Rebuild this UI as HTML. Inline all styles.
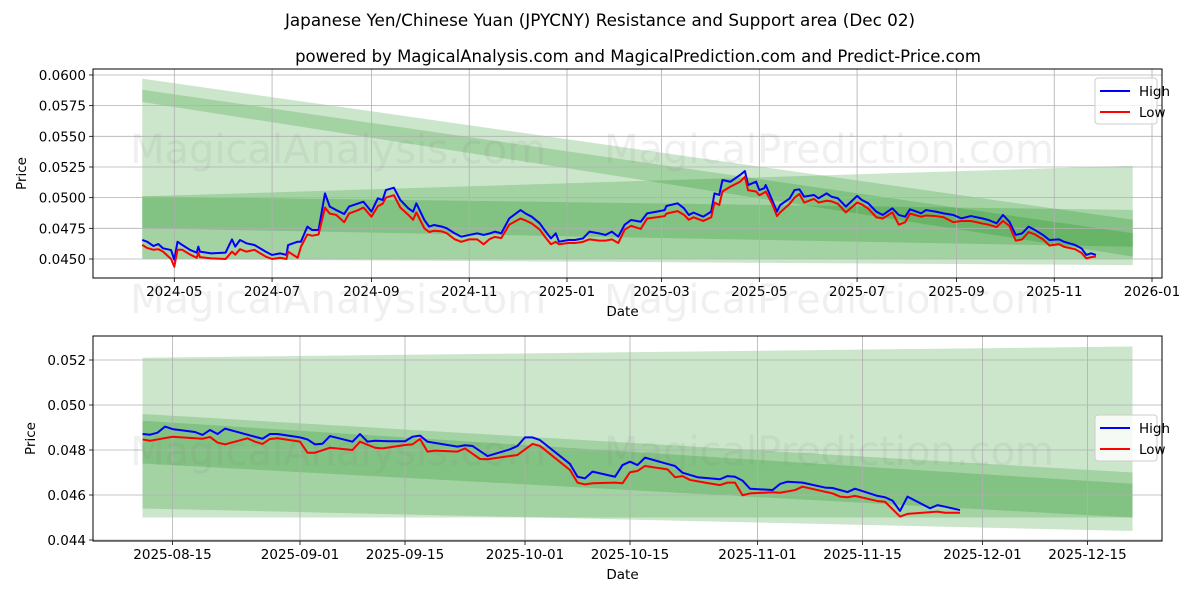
<!DOCTYPE html>
<html><head><meta charset="utf-8">
<style>
html,body{margin:0;padding:0;background:#fff;}
svg{display:block;font-family:"DejaVu Sans","Liberation Sans",sans-serif;}
</style></head>
<body>
<svg id="chart" width="1200" height="600" viewBox="0 0 1200 600">
<text x="600" y="26" text-anchor="middle" font-size="16.8">Japanese Yen/Chinese Yuan (JPYCNY) Resistance and Support area (Dec 02)</text>
<text x="638" y="62" text-anchor="middle" font-size="16.5">powered by MagicalAnalysis.com and MagicalPrediction.com and Predict-Price.com</text>
</svg>
<script>
// ---- top chart data (days since 2024-05-01) ----
const topDays=[-20,-17,-13,-10,-7,-2,0,2,5,10,14,15,16,23,32,36,38,41,45,50,57,61,66,70,71,77,79,83,86,90,94,97,101,106,109,115,118,123,127,130,132,137,141,146,149,151,156,159,162,167,170,175,179,184,189,193,197,200,204,209,216,219,223,228,231,235,238,240,246,250,255,259,265,269,273,277,281,285,291,295,301,306,307,314,318,321,324,330,335,337,340,342,347,353,356,358,363,365,368,369,373,376,378,384,387,390,393,399,402,407,410,414,419,426,429,433,438,442,448,452,456,459,466,469,475,480,486,491,497,504,508,513,517,521,525,529,533,537,542,546,552,555,562,566,569,572,575];
const topHigh=[.04655,.04641,.04606,.04622,.04587,.04573,.04492,.04641,.04614,.04573,.04552,.04601,.04560,.04546,.04552,.04660,.04601,.04655,.04628,.04614,.04560,.04533,.04546,.04533,.04614,.04641,.04641,.04764,.04736,.04736,.05035,.04927,.04899,.04867,.04927,.04954,.04967,.04886,.04995,.04981,.05062,.05081,.04981,.04913,.04886,.04954,.04818,.04764,.04777,.04764,.04750,.04709,.04682,.04696,.04709,.04696,.04709,.04723,.04709,.04831,.04899,.04872,.04845,.04791,.04736,.04668,.04709,.04641,.04655,.04655,.04668,.04723,.04709,.04696,.04723,.04682,.04780,.04818,.04804,.04872,.04886,.04899,.04932,.04954,.04913,.04859,.04878,.04845,.04886,.05035,.05022,.05144,.05130,.05185,.05217,.05103,.05130,.05062,.05076,.05103,.04981,.04886,.04940,.04995,.05062,.05068,.05008,.05022,.04995,.05035,.05008,.04995,.04927,.05014,.04981,.04954,.04886,.04859,.04913,.04859,.04845,.04905,.04872,.04899,.04886,.04872,.04859,.04831,.04850,.04831,.04818,.04791,.04859,.04804,.04696,.04709,.04764,.04736,.04696,.04655,.04660,.04641,.04614,.04587,.04533,.04546,.04533];
const topLow=[.04615,.04590,.04575,.04580,.04560,.04500,.04437,.04575,.04575,.04535,.04510,.04550,.04515,.04505,.04500,.04560,.04535,.04580,.04560,.04575,.04520,.04500,.04510,.04500,.04560,.04510,.04600,.04700,.04690,.04700,.04920,.04870,.04860,.04800,.04870,.04900,.04920,.04845,.04930,.04950,.05000,.05020,.04920,.04860,.04820,.04880,.04750,.04720,.04730,.04725,.04710,.04660,.04640,.04660,.04660,.04620,.04665,.04680,.04670,.04780,.04830,.04815,.04790,.04740,.04685,.04620,.04640,.04620,.04630,.04630,.04640,.04660,.04650,.04650,.04660,.04630,.04740,.04770,.04745,.04830,.04840,.04850,.04870,.04890,.04860,.04820,.04840,.04810,.04840,.04960,.04940,.05050,.05090,.05130,.05170,.05060,.05050,.05020,.05040,.05050,.04950,.04850,.04880,.04950,.05000,.05030,.04960,.04990,.04960,.04975,.04970,.04950,.04880,.04960,.04945,.04910,.04840,.04830,.04880,.04780,.04800,.04870,.04845,.04855,.04850,.04840,.04800,.04810,.04810,.04790,.04780,.04760,.04810,.04770,.04650,.04660,.04720,.04700,.04660,.04610,.04620,.04600,.04580,.04550,.04505,.04515,.04520];
const topXTickDays=[0,61,123,184,245,304,365,426,488,549,610];
const topXTickLabels=["2024-05","2024-07","2024-09","2024-11","2025-01","2025-03","2025-05","2025-07","2025-09","2025-11","2026-01"];
const topYTicks=[0.0450,0.0475,0.0500,0.0525,0.0550,0.0575,0.0600];
const topBandDays=[-20,598];
const topBandTopStart=[0.0597,0.0588,0.0501,0.0501];
const topBandTopEnd=[0.0482,0.0471,0.0526,0.0490];
const topBandBotStart=[0.0450,0.0578,0.0450,0.0475];
const topBandBotEnd=[0.0445,0.0452,0.0450,0.0460];

// ---- bottom chart data (days since 2025-08-15) ----
const botHighDays=[-4,-3,-2,-1,0,3,4,5,6,7,9,11,12,13,14,17,18,19,20,21,24,25,26,27,29,31,32,33,34,38,39,40,42,45,46,47,48,49,53,54,55,56,59,60,61,62,63,66,67,68,70,73,74,75,76,77,80,81,82,84,87,88,90,91,94,95,96,97,98,101,102,103,105];
const botHigh=[.04871,.04868,.04877,.04904,.04893,.04880,.04867,.04889,.04871,.04895,.04877,.04859,.04850,.04871,.04871,.04856,.04847,.04825,.04828,.04862,.04837,.04871,.04837,.04841,.04839,.04839,.04859,.04864,.04837,.04815,.04821,.04818,.04773,.04803,.04818,.04856,.04856,.04844,.04738,.04681,.04674,.04704,.04681,.04733,.04748,.04733,.04766,.04738,.04729,.04699,.04679,.04670,.04684,.04681,.04664,.04628,.04622,.04649,.04659,.04655,.04633,.04631,.04613,.04628,.04596,.04590,.04575,.04529,.04593,.04541,.04555,.04548,.04533];
const botLowDays=[-4,-3,-2,0,4,5,6,7,10,11,12,13,14,17,18,19,21,24,25,27,28,31,32,33,34,35,38,39,41,42,46,48,49,53,54,55,56,59,60,61,62,63,66,67,68,69,71,73,74,75,76,77,80,81,83,84,88,89,90,91,94,95,97,98,102,103,105];
const botLow=[.04847,.04841,.04847,.04859,.04850,.04858,.04833,.04825,.04852,.04837,.04827,.04849,.04852,.04837,.04788,.04788,.04810,.04800,.04837,.04810,.04807,.04822,.04825,.04849,.04793,.04797,.04793,.04807,.04760,.04759,.04778,.04827,.04818,.04711,.04655,.04647,.04652,.04655,.04652,.04701,.04707,.04729,.04714,.04679,.04684,.04667,.04655,.04644,.04655,.04655,.04599,.04607,.04612,.04610,.04622,.04637,.04607,.04593,.04590,.04596,.04573,.04570,.04504,.04516,.04526,.04521,.04521];
const botXTickDays=[0,17,31,47,61,78,92,108,122];
const botXTickLabels=["2025-08-15","2025-09-01","2025-09-15","2025-10-01","2025-10-15","2025-11-01","2025-11-15","2025-12-01","2025-12-15"];
const botYTicks=[0.044,0.046,0.048,0.050,0.052];
const botBandDays=[-4,128];
const botBandTopStart=[0.0521,0.0496,0.0493];
const botBandTopEnd=[0.0526,0.0470,0.0465];
const botBandBotStart=[0.0450,0.0454,0.0474];
const botBandBotEnd=[0.0450,0.0444,0.0450];

const svg=document.getElementById('chart');
const NS='http://www.w3.org/2000/svg';
function mk(tag,attrs,parent){const e=document.createElementNS(NS,tag);for(const k in attrs)e.setAttribute(k,attrs[k]);(parent||svg).appendChild(e);return e;}

function drawPanel(o){
  const g=mk('g',{});
  
  
  for(let i=0;i<o.bTS.length;i++){
    const x0=o.xs(o.bDays[0]),x1=o.xs(o.bDays[1]);
    const pts=[[x0,o.ys(o.bTS[i])],[x1,o.ys(o.bTE[i])],[x1,o.ys(o.bBE[i])],[x0,o.ys(o.bBS[i])]];
    const p=mk('polygon',{points:pts.map(q=>q.join(',')).join(' '),fill:'rgb(0,128,0)','fill-opacity':0.2},g);
    
    
  }
  o.xt.forEach((d,i)=>{const x=o.xs(d);
    const l=mk('line',{x1:x,x2:x,y1:o.top,y2:o.bot,stroke:'#b0b0b0','stroke-width':0.8},g);
    
    
    mk('line',{x1:x,x2:x,y1:o.bot,y2:o.bot+4,stroke:'#000','stroke-width':0.8},g);
    const t=mk('text',{x:x,y:o.bot+18,'text-anchor':'middle','font-size':13.5},g);t.textContent=o.xl[i];
    
    
  });
  o.yt.forEach(v=>{const y=o.ys(v);
    const l=mk('line',{x1:o.left,x2:o.right,y1:y,y2:y,stroke:'#b0b0b0','stroke-width':0.8},g);
    
    
    mk('line',{x1:o.left-4,x2:o.left,y1:y,y2:y,stroke:'#000','stroke-width':0.8},g);
    const t=mk('text',{x:o.left-7,y:y+5,'text-anchor':'end','font-size':13.5},g);t.textContent=v.toFixed(o.dec);
    
    
  });
  o.wm.forEach(w=>{const t=mk('text',{x:w[0],y:w[1],'font-size':40,fill:'#808080','fill-opacity':0.12},g);t.textContent=w[2];
    
    });
  const hp=mk('polyline',{points:o.hd.map((d,i)=>o.xs(d)+','+o.ys(o.hv[i])).join(' '),fill:'none',stroke:'#0000ff','stroke-width':2,'stroke-linejoin':'round'},g);
  
  
  const lp=mk('polyline',{points:o.ld.map((d,i)=>o.xs(d)+','+o.ys(o.lv[i])).join(' '),fill:'none',stroke:'#ff0000','stroke-width':2,'stroke-linejoin':'round'},g);
  
  
  const fr=mk('rect',{x:o.left,y:o.top,width:o.right-o.left,height:o.bot-o.top,fill:'none',stroke:'#000','stroke-width':1},g);
  
  
  const xl=mk('text',{x:(o.left+o.right)/2-5,y:o.bot+38,'text-anchor':'middle','font-size':13.5},g);xl.textContent='Date';
  
  
  const cy=(o.top+o.bot)/2;
  const yl=mk('text',{x:o.ylx,y:cy,'text-anchor':'middle','font-size':13.5,transform:`rotate(-90 ${o.ylx} ${cy})`},g);yl.textContent='Price';
  
  
  const lg=mk('g',{},g);
  
  
  mk('rect',{x:1095,y:o.legY,width:62,height:46,rx:3,fill:'#fff','fill-opacity':0.8,stroke:'#ccc','stroke-width':1},lg);
  [['High','#0000ff'],['Low','#ff0000']].forEach((e,i)=>{const yy=o.legY+13+i*21;
    mk('line',{x1:1100,x2:1130,y1:yy,y2:yy,stroke:e[1],'stroke-width':2},lg);
    const t=mk('text',{x:1139,y:yy+5,'font-size':13.5},lg);t.textContent=e[0];
    
    });
}

drawPanel({name:'top-panel',left:93,right:1162,top:69,bot:278,
  xs:d=>174.3+d*1.6028, ys:v=>259-(v-0.045)/0.0025*30.67,
  bDays:topBandDays,bTS:topBandTopStart,bTE:topBandTopEnd,bBS:topBandBotStart,bBE:topBandBotEnd,
  xt:topXTickDays,xl:topXTickLabels,yt:topYTicks,dec:4,
  hd:topDays,hv:topHigh,ld:topDays,lv:topLow,ylx:26,legY:78,
  wm:[[130,163,'MagicalAnalysis.com'],[604,163,'MagicalPrediction.com'],[130,313,'MagicalAnalysis.com'],[604,313,'MagicalPrediction.com']]});
drawPanel({name:'bottom-panel',left:93,right:1162,top:336,bot:541,
  xs:d=>172.5+d*7.5, ys:v=>360+(0.052-v)*22500,
  bDays:botBandDays,bTS:botBandTopStart,bTE:botBandTopEnd,bBS:botBandBotStart,bBE:botBandBotEnd,
  xt:botXTickDays,xl:botXTickLabels,yt:botYTicks,dec:3,
  hd:botHighDays,hv:botHigh,ld:botLowDays,lv:botLow,ylx:35,legY:415,
  wm:[[130,465,'MagicalAnalysis.com'],[604,465,'MagicalPrediction.com']]});
</script>
</body></html>
